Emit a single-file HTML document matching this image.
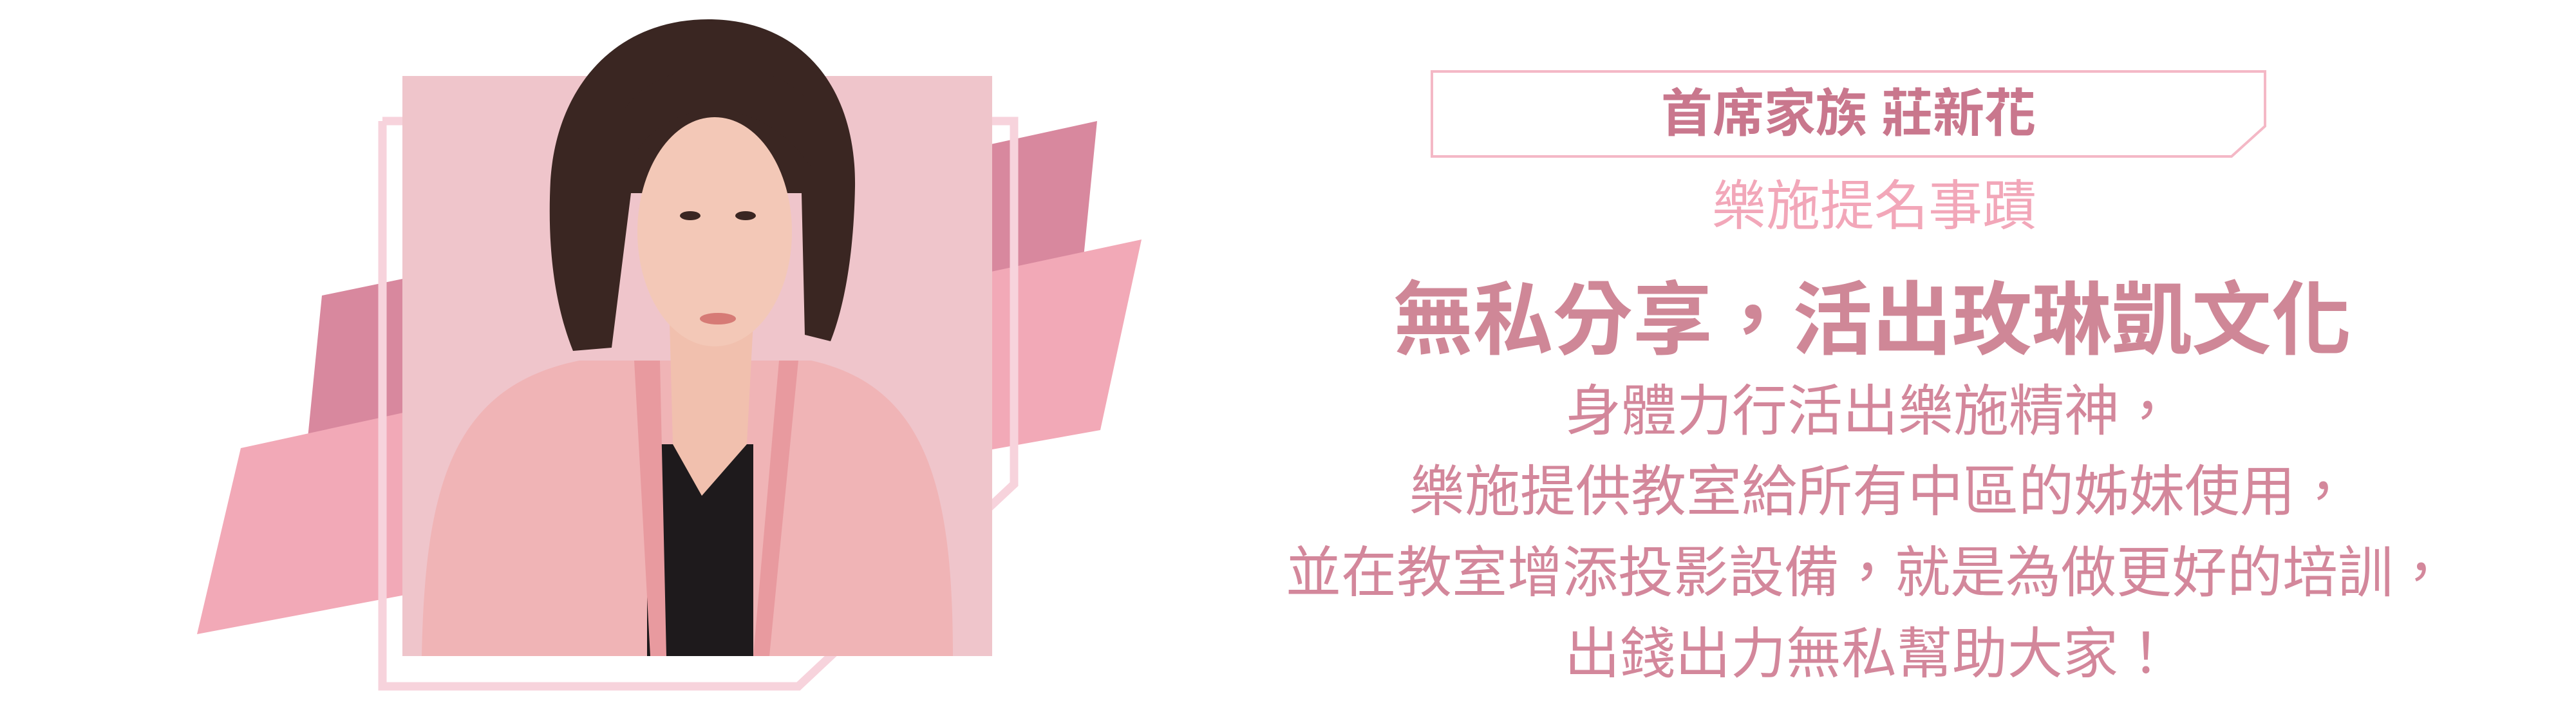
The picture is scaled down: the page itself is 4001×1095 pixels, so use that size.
<!DOCTYPE html>
<html><head><meta charset="utf-8">
<style>
html,body{margin:0;padding:0;background:#fff;}
#stage{position:relative;width:4001px;height:1095px;overflow:hidden;background:#fff;font-family:"Liberation Sans","Noto Sans CJK TC","Noto Sans CJK SC",sans-serif;}
.t{position:absolute;white-space:nowrap;transform:translateX(-50%);line-height:1;}
</style></head>
<body>
<div id="stage">
<svg width="4001" height="1095" style="position:absolute;left:0;top:0">
  <polygon points="1530,226 1704,188 1679,440 1530,470" fill="#d8889e"/>
  <polygon points="1530,424 1773,372 1709,668 1530,700" fill="#f2a9b7"/>
  <polygon points="500,459 640,430 640,660 476,700" fill="#d8889e"/>
  <polygon points="374,696 640,638 640,922 306,985" fill="#f2a9b7"/>
  <polyline points="594,188 1575,188 1575,752 1240,1066 594,1066 594,188" fill="none" stroke="#f7d3dc" stroke-width="13"/>
  <rect x="625" y="118" width="916" height="901" fill="#efc5cb"/>
  <g>
    <path d="M655,1019 C660,760 700,600 900,560 L1260,560 C1440,600 1480,760 1480,1019 Z" fill="#f0b4b6"/>
    <rect x="1005" y="690" width="165" height="329" fill="#1e1a1c"/>
    <path d="M985,560 L1010,1019 L1035,1019 L1025,560 Z" fill="#e89a9f"/>
    <path d="M1210,560 L1170,1019 L1195,1019 L1240,560 Z" fill="#e89a9f"/>
    <path d="M1040,500 L1045,690 L1090,770 L1160,690 L1170,500 Z" fill="#f1c0ae"/>
    <path d="M1100,30 C1240,30 1330,130 1328,290 C1326,400 1310,480 1290,530 L1250,520 L1245,300 L980,300 L950,540 L890,545 C860,470 850,380 855,280 C865,130 960,30 1100,30 Z" fill="#3a2622"/>
    <ellipse cx="1110" cy="360" rx="120" ry="178" fill="#f3c8b7"/>
    <path d="M985,240 C1040,150 1180,140 1260,260 L1250,150 C1180,80 1020,90 970,170 Z" fill="#3a2622"/>
    <ellipse cx="1072" cy="335" rx="16" ry="7" fill="#3a2622"/>
    <ellipse cx="1158" cy="335" rx="16" ry="7" fill="#3a2622"/>
    <ellipse cx="1115" cy="495" rx="28" ry="9" fill="#d67b76"/>
  </g>
  <polygon points="2224,111 3518,111 3518,196 3466,243 2224,243" fill="none" stroke="#f4b8c6" stroke-width="4"/>
</svg>
<div class="t" style="left:2871px;top:137px;font-size:80px;font-weight:bold;color:#c9778d;">首席家族 莊新花</div>
<div class="t" style="left:2911px;top:278px;font-size:84px;color:#f2a7b9;">樂施提名事蹟</div>
<div class="t" style="left:2908px;top:436px;font-size:124px;font-weight:bold;color:#cf8797;">無私分享，活出玫琳凱文化</div>
<div class="t" style="left:2905px;top:596px;font-size:86px;color:#d3879b;">身體力行活出樂施精神，</div>
<div class="t" style="left:2920px;top:721px;font-size:86px;color:#d3879b;">樂施提供教室給所有中區的姊妹使用，</div>
<div class="t" style="left:2900px;top:847px;font-size:86px;color:#d3879b;">並在教室增添投影設備，就是為做更好的培訓，</div>
<div class="t" style="left:2903px;top:973px;font-size:86px;color:#d3879b;">出錢出力無私幫助大家！</div>
</div>
</body></html>
